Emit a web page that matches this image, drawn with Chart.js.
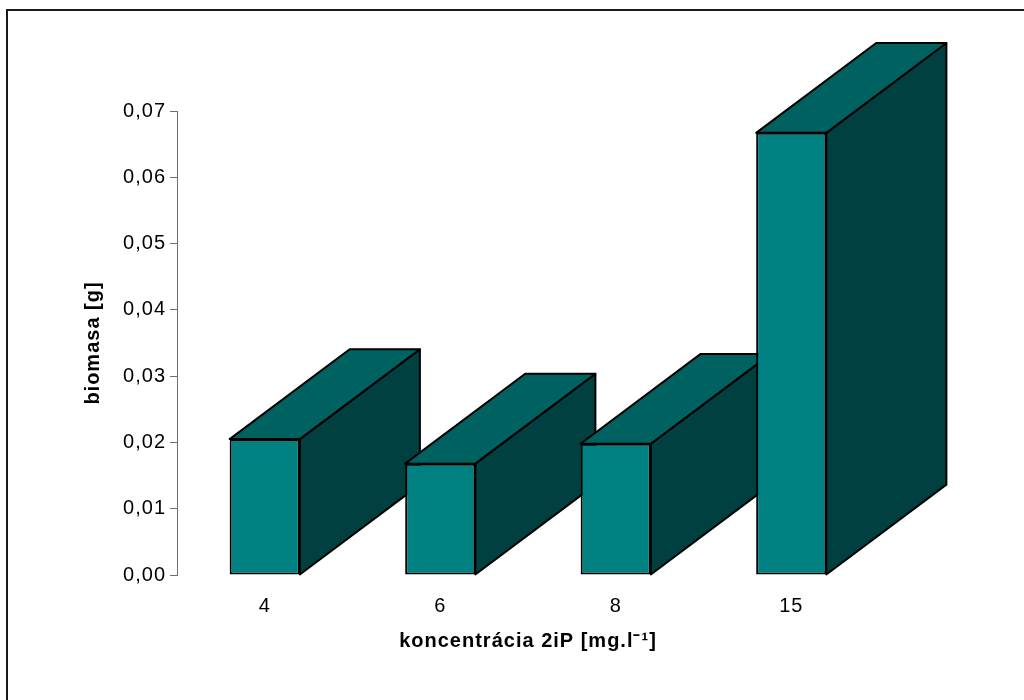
<!DOCTYPE html>
<html>
<head>
<meta charset="utf-8">
<script src="https://cdn.jsdelivr.net/npm/chart.js@4/dist/chart.umd.min.js"></script>
<style>
  html, body { margin: 0; padding: 0; background: #fff; overflow: hidden; }
  #wrap { position: relative; width: 1024px; height: 700px; }
  #frame { position: absolute; left: 6px; top: 9px; width: 1100px; height: 800px;
           border-top: 2px solid #1a1a1a; border-left: 2px solid #1a1a1a; }
  canvas { position: absolute; left: 0; top: 0; }
</style>
</head>
<body>
<div id="wrap">
  <div id="frame"></div>
  <canvas id="c" width="1024" height="700"></canvas>
</div>
<script>
// concentration of 2iP (mg per litre) and harvested biomass (g)
const concentrations = ['4', '6', '8', '15'];
const biomass = [0.0205, 0.0168, 0.0198, 0.0667];

const yMin = 0;
const yMax = 0.07;
const yStep = 0.01;

const xTitle = 'koncentrácia 2iP [mg.l⁻¹]';
const yTitle = 'biomasa [g]';

const FRONT = '#008080';
const TOP = '#006161';
const SIDE = '#004040';
const EDGE = '#000000';
const FONT = "'Liberation Sans', Arial, sans-serif";

// slightly airy lettering for all chart text
const spacing = {
  id: 'spacing',
  beforeDraw(chart) { chart.ctx.letterSpacing = '1px'; }
};

// extruded block look: side and top faces drawn behind the front faces
const blocks = {
  id: 'blocks',
  beforeDatasetsDraw(chart) {
    const ctx = chart.ctx;
    const meta = chart.getDatasetMeta(0);
    meta.data.forEach(bar => {
      const { x, y, base, width } = bar.getProps(['x', 'y', 'base', 'width'], true);
      const dx = width * 1.71, dy = -width * 1.28;
      const l = x - width / 2, r = x + width / 2;
      ctx.save();
      ctx.lineWidth = 2;
      ctx.strokeStyle = EDGE;
      ctx.lineJoin = 'round';
      // side face
      ctx.beginPath();
      ctx.moveTo(r, y);
      ctx.lineTo(r + dx, y + dy);
      ctx.lineTo(r + dx, base + dy);
      ctx.lineTo(r, base);
      ctx.closePath();
      ctx.fillStyle = SIDE;
      ctx.fill();
      ctx.stroke();
      // top face
      ctx.beginPath();
      ctx.moveTo(l, y);
      ctx.lineTo(l + dx, y + dy);
      ctx.lineTo(r + dx, y + dy);
      ctx.lineTo(r, y);
      ctx.closePath();
      ctx.fillStyle = TOP;
      ctx.fill();
      ctx.stroke();
      ctx.restore();
    });
  }
};

new Chart(document.getElementById('c'), {
  type: 'bar',
  data: {
    labels: concentrations,
    datasets: [{
      data: biomass,
      backgroundColor: FRONT,
      borderColor: EDGE,
      borderWidth: 2,
      borderSkipped: false,
      barPercentage: 0.4,
      categoryPercentage: 1.0
    }]
  },
  options: {
    responsive: false,
    animation: false,
    events: [],
    layout: { padding: { left: 77, right: 145, top: 111, bottom: 45 } },
    plugins: { legend: { display: false }, tooltip: { enabled: false } },
    scales: {
      x: {
        grid: { display: false, drawTicks: false },
        border: { display: false },
        ticks: { color: '#000', font: { family: FONT, size: 20 }, padding: 19 },
        title: { display: true, text: xTitle, color: '#000',
                 font: { family: FONT, size: 20, weight: 'bold' }, padding: { top: 4, bottom: 2 } },
        afterFit(scale) { scale.height = 80; }
      },
      y: {
        min: yMin,
        max: yMax,
        grid: { drawOnChartArea: false, drawTicks: true, tickLength: 7, color: '#707070' },
        border: { display: true, color: '#707070', width: 1 },
        ticks: {
          stepSize: yStep,
          color: '#000',
          padding: 4,
          font: { family: FONT, size: 20 },
          callback: v => v.toFixed(2).replace('.', ',')
        },
        title: { display: true, text: yTitle, color: '#000',
                 font: { family: FONT, size: 20, weight: 'bold' }, padding: { top: 4, bottom: 4 } },
        afterFit(scale) { scale.width = 100; }
      }
    }
  },
  plugins: [spacing, blocks]
});
</script>
</body>
</html>
